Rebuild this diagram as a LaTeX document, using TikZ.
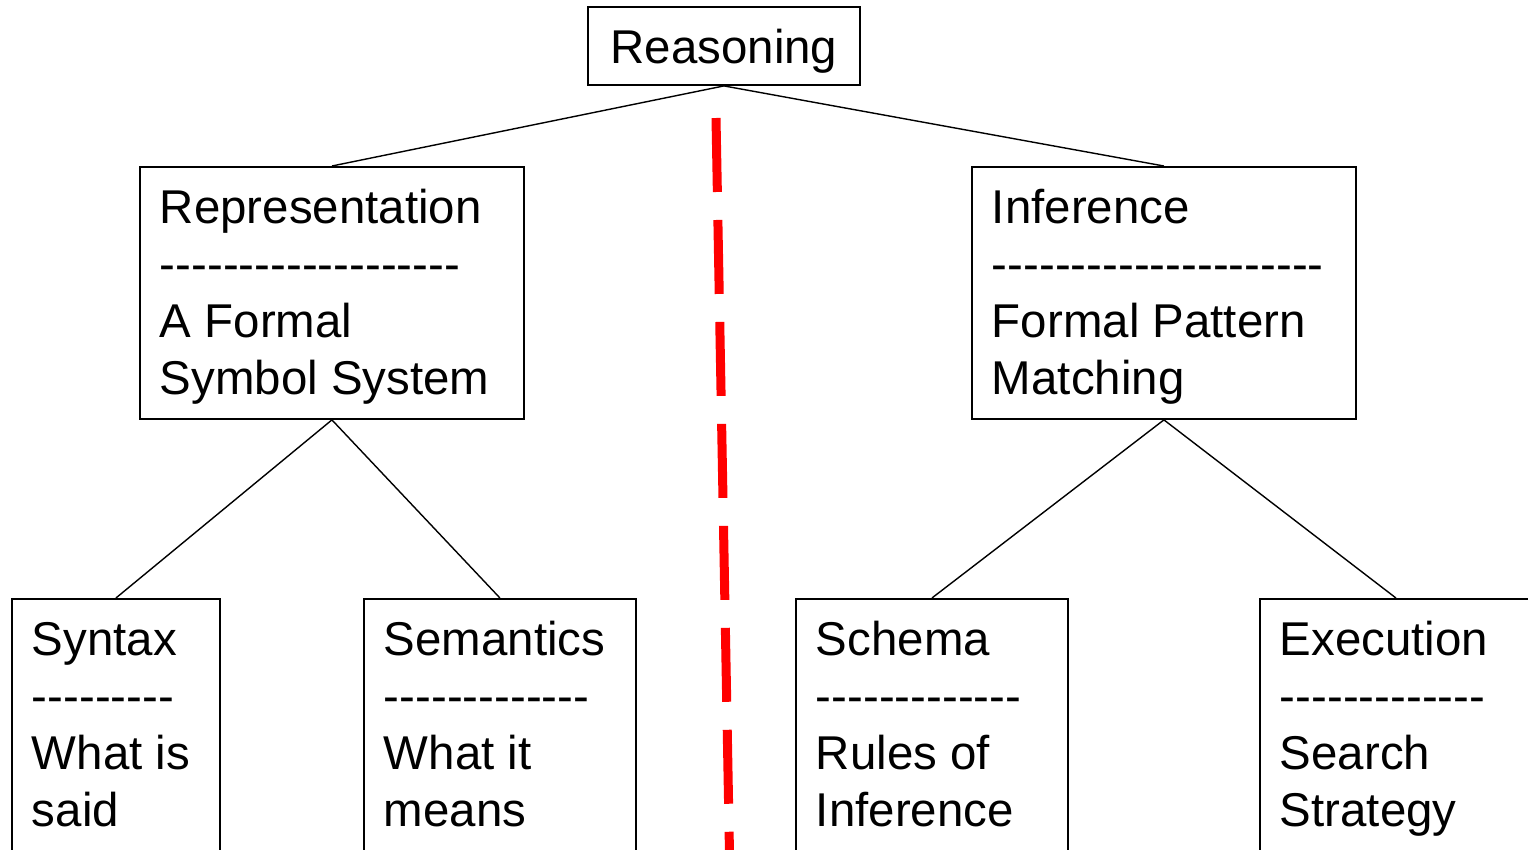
\documentclass[tikz,border=0pt]{standalone}
\usepackage{fontspec}
\setmainfont{Liberation Sans}
\usepackage{amsmath}

% a row of single hyphens (kern stops the -- and --- ligatures)
\newcommand\dashrow[1]{\foreach \k in {1,...,#1}{-\kern0pt}}
% box contents: height, width, lines
\newcommand\boxtext[3]{\parbox[c][#1][t]{#2}{\raggedright\rule{0pt}{1.14cm}#3}}

\tikzset{
  box/.style={draw, line width=1.1pt, inner xsep=0.4cm, inner ysep=0pt, anchor=north west},
  link/.style={line width=0.8pt},
  divider/.style={red, line width=0.18cm, dash pattern=on 1.48cm off 0.56cm}
}

\begin{document}
\begin{tikzpicture}[x=0.02cm, y=-0.02cm, font=\fontsize{27pt}{1.14cm}\selectfont]
            \useasboundingbox (0,0) rectangle (1528,849);
            \clip (0,0) rectangle (1528,849);

            \node[box, inner xsep=0pt, minimum width=5.44cm, text height=1.14cm, text depth=0.42cm] (reason) at (587,6) {Reasoning};

            \node[box] (repr) at (139,166) {\boxtext{5.04cm}{6.88cm}{Representation\\ \dashrow{19}\\ A Formal\\ Symbol System}};
            \node[box] (infer) at (971,166) {\boxtext{5.04cm}{6.88cm}{Inference\\ \dashrow{21}\\ Formal Pattern\\ Matching}};

            \node[box] (syntax) at (11,598) {\boxtext{6.04cm}{3.36cm}{Syntax\\ \dashrow{9}\\ What is\\ said}};
            \node[box] (semant) at (363,598) {\boxtext{6.04cm}{4.64cm}{Semantics\\ \dashrow{13}\\ What it\\ means}};
            \node[box] (schema) at (795,598) {\boxtext{6.04cm}{4.64cm}{Schema\\ \dashrow{13}\\ Rules of\\ Inference}};
            \node[box] (exec) at (1259,598) {\boxtext{6.04cm}{4.64cm}{Execution\\ \dashrow{13}\\ Search\\ Strategy}};

            \draw[link] (reason.south) -- (repr.north);
            \draw[link] (reason.south) -- (infer.north);
            \draw[link] (repr.south) -- (syntax.north);
            \draw[link] (repr.south) -- (semant.north);
            \draw[link] (infer.south) -- (schema.north);
            \draw[link] (infer.south) -- (exec.north);

            % split between the two halves
            \coordinate (divtop) at (716,118);
            \coordinate (divbot) at (729.8,870);
            \draw[divider] (divtop) -- (divbot);
        \end{tikzpicture}
\end{document}
